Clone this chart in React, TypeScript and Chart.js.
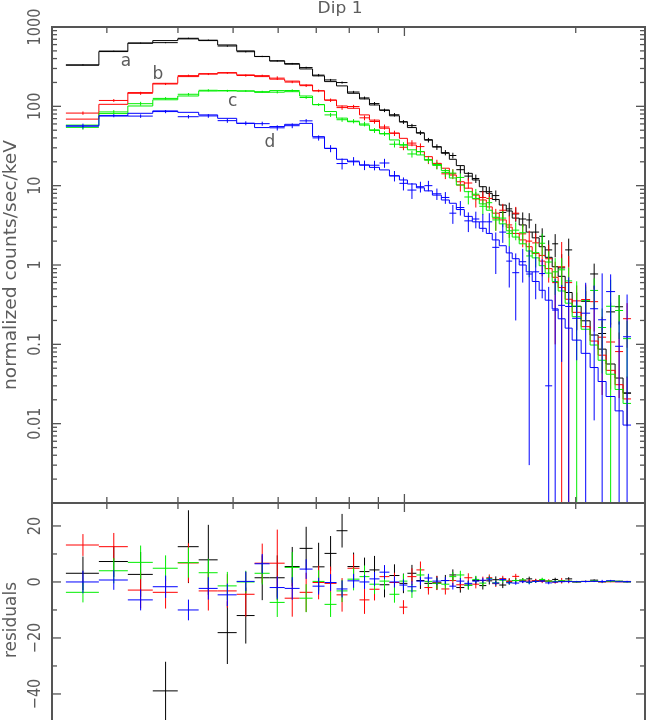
import React, { useEffect, useRef } from "react";
import { Chart, registerables } from "chart.js";
Chart.register(...registerables);

// ---------- data (energies in keV) ----------
const EDGES_KEV = [0.2542, 0.2905, 0.3266, 0.3613, 0.3997, 0.435, 0.4697, 0.5073, 0.5454, 0.5797, 0.616, 0.6544, 0.6896, 0.7238, 0.7598, 0.7943, 0.8338, 0.8681, 0.9041, 0.9412, 0.98, 1.0122, 1.0497, 1.0842, 1.1198, 1.1611, 1.1994, 1.2337, 1.2743, 1.3161, 1.3539, 1.3929, 1.4268, 1.4678, 1.5099, 1.5469, 1.5912, 1.6368, 1.677, 1.7251, 1.7675, 1.8182, 1.8628, 1.9163, 1.9714, 2.0444, 2.1201, 2.1897, 2.2616, 2.3453, 2.4222, 2.5016];

const BLACK_MODEL = [330, 490, 625, 674, 708, 674, 594, 500, 424, 373, 340, 296, 242, 205, 181, 146, 124, 104, 90, 76, 64, 54, 46, 38, 31, 25.6, 21.5, 17.9, 14.3, 11.8, 9.7, 8.0, 6.7, 5.7, 4.8, 3.9, 3.2, 2.6, 2.2, 1.7, 1.25, 0.95, 0.72, 0.45, 0.3, 0.198, 0.131, 0.087, 0.0565, 0.0376, 0.0243];
const BLACK_RESID = [3.1, 7.3, 2.7, -38.9, 12.6, 7.9, -18.1, -12, 1.5, 1.5, 5.5, 12, 5.4, 10.2, 18.3, 5.5, 3.7, 4.3, -1.0, 2.3, -0.5, 3.1, 0.5, -0.5, -0.3, 0.5, 2.5, -2.0, -1.1, 0.5, -1.3, 0.4, 0.8, -1.1, 0.3, 0.5, 0.6, 1.1, 0.4, 0.6, 0.3, 0.9, 0.2, 1.1, 0.0, 0.15, 0.64, 0.05, 0.2, 0.26, 0.0];
const BLACK_ERR = [6, 5.5, 8, 10.4, 13, 12.5, 11.2, 10, 8, 8, 7, 7.7, 8.6, 6.2, 6, 5, 5, 5, 4.5, 4, 3.5, 3, 3, 2.5, 2.5, 2, 2, 1.8, 1.6, 1.5, 1.4, 1.3, 1.2, 1.1, 1.0, 0.9, 0.8, 0.8, 0.7, 0.6, 0.5, 0.6, 0.45, 0.6, 0.15, 0.12, 0.27, 0.06, 0.08, 0.12, 0.015];

const RED_MODEL = [69, 106, 149, 195, 237, 258, 266, 249, 237, 220, 208, 186, 157, 120, 101, 94.5, 78, 67, 53, 46, 39.5, 32.5, 26.8, 23.2, 19.1, 16.6, 13.6, 11.2, 9.3, 7.6, 6.6, 5.4, 4.5, 3.7, 3.0, 2.5, 2.07, 1.7, 1.4, 1.12, 0.9, 0.7, 0.52, 0.37, 0.253, 0.167, 0.11, 0.073, 0.047, 0.031, 0.0205];
const RED_RESID = [13.2, 12.6, -2.9, -3.7, 6.8, -3.2, -3.2, -4.4, 6.7, 6.7, -5.8, -3.7, -0.2, -0.5, -4.6, 4.9, -6.4, -2.6, 1.9, -0.2, -9.0, 1.9, 4.3, -2.0, -0.4, -2.5, 0.5, -1.0, 1.5, -0.8, 0.5, 1.5, -0.6, 1.2, 0.2, 2.0, 0.4, 0.3, 0.5, 0.2, 0.3, -0.1, 0.43, 0.23, 0.1, 0.2, 0.235, 0.05, 0.06, 0.05, 0.19];
const RED_ERR = [3.9, 4.9, 6.5, 5.8, 7, 7, 6, 8, 7, 12, 6.6, 7, 6, 6, 6, 5, 5, 4, 4, 3.5, 2.5, 3, 3, 2.5, 2.5, 2, 2, 1.8, 1.6, 1.5, 1.4, 1.2, 1.2, 1.0, 1.0, 0.9, 0.8, 0.7, 0.6, 0.6, 0.6, 0.5, 1.0, 0.7, 0.2, 0.2, 0.2, 0.1, 0.08, 0.06, 0.12];

const GREEN_MODEL = [58, 81, 101, 121, 135, 156, 158, 156, 150, 158, 153, 135, 105, 86, 71, 64, 58, 50.5, 45, 37.7, 32.5, 28.3, 24.4, 21, 18.5, 15.5, 12.5, 10.2, 8.4, 6.9, 5.9, 4.9, 4.0, 3.3, 2.7, 2.25, 1.85, 1.5, 1.23, 0.98, 0.79, 0.62, 0.47, 0.33, 0.223, 0.155, 0.098, 0.063, 0.042, 0.027, 0.018];
const GREEN_RESID = [-3.7, 4.0, 7.0, 4.9, 6.9, 3.3, -1.4, 0, 3.1, -7.3, 5.2, -5.8, 0.2, -8, -3.2, 1.0, 1.9, -0.8, 0.3, -4.4, 0.3, -3.2, 2.5, 0.2, -0.5, -0.8, 1.9, 2.5, -1.2, 0.9, -0.4, 1.2, -0.3, 0.6, -0.2, 0.5, 0.7, -0.2, 0.2, 0.9, 0.3, 0.2, 0.4, 0.3, 0.08, 0.2, 0.38, 0.1, 0.26, 0.24, 0.1];
const GREEN_ERR = [3.6, 4.5, 6, 4.6, 5.4, 5, 5, 4, 4, 5.2, 5.5, 5, 4, 4.5, 4, 4, 4, 3.5, 3, 3, 2.5, 2.5, 2.5, 2, 2, 1.8, 1.6, 1.5, 1.4, 1.3, 1.2, 1.1, 1.0, 0.9, 0.8, 0.7, 0.7, 0.6, 0.5, 0.6, 0.4, 0.4, 0.35, 0.3, 0.32, 0.18, 0.2, 0.12, 0.35, 0.15, 0.08];

const BLUE_MODEL = [56.5, 75.6, 81.7, 87.6, 84, 78, 70.6, 61, 54, 55.6, 59.3, 61, 41.5, 29.6, 21.5, 20, 18.2, 17.0, 15.8, 13.3, 11.8, 10.5, 9.4, 8.6, 7.6, 6.6, 6.0, 5.0, 4.1, 3.5, 2.9, 2.5, 2.07, 1.75, 1.42, 1.2, 1.0, 0.82, 0.62, 0.48, 0.36, 0.28, 0.21, 0.16, 0.113, 0.077, 0.051, 0.034, 0.022, 0.0145, 0.0096];
const BLUE_RESID = [0, 0.7, -6.4, -1.7, -10, -2.3, -4.6, 0.2, 6.5, -2, -2.3, 4.6, -1.5, -0.2, -2.5, 0.4, 0, 1.1, 3.5, 0, -1.1, -1.7, 0.3, 1.4, 0.3, 0.5, -1.5, 0.3, -0.5, 0.3, 0.6, 1.0, -0.4, 0.85, -0.3, -0.4, 0.1, -0.05, 0.2, 0.3, -0.33, -0.01, 0.1, 0.14, 0.1, 0.17, 0.23, 0.17, 0.44, 0.08, 0.115];
const BLUE_ERR = [4, 3.5, 3.75, 4, 3.7, 4, 4, 3.5, 3.5, 4, 4, 3.5, 3, 3, 3, 2.5, 2.5, 2.5, 2.5, 2, 2, 2, 1.5, 1.5, 1.3, 1.2, 1.2, 1.1, 1.0, 0.9, 0.9, 1.0, 0.9, 0.7, 0.6, 0.6, 0.5, 0.767, 0.45, 0.4, 0.5, 0.4, 0.25, 0.4, 0.15, 0.35, 0.27, 0.58, 0.3, 0.1, 0.3];

// axis ticks and labels
const X_MINOR_TICKS = [0.3, 0.4, 0.5, 0.6, 0.7, 0.8, 0.9, 2];
const X_MAJOR_TICKS = [1];
const Y_DECADES = [0.001, 0.01, 0.1, 1, 10, 100];
const Y_TICK_VALUES = [1000, 100, 10, 1, 0.1, 0.01];
const Y_TICK_LABELS = ["1000", "100", "10", "1", "0.1", "0.01"];
const RES_TICK_VALUES = [20, 0, -20, -40];
const RES_TICK_LABELS = ["20", "0", "\u221220", "\u221240"];
const RES_MINOR_TICKS = [10, -10, -30];

// curve labels (anchored in data coordinates)
const CURVE_LABELS = ["a", "b", "c", "d"];
const CURVE_LABEL_E = [0.324, 0.369, 0.499, 0.58];
const CURVE_LABEL_V = [363, 249, 113.6, 34.5];

const TITLE = "Dip 1";
const Y_TITLE = "normalized counts/sec/keV";
const RES_TITLE = "residuals";

// ---------- style ----------
const X_MIN = 0.2403, X_MAX = 2.647;
const Y_MIN = 0.001, Y_MAX = 1000;
const R_MIN = -49.3, R_MAX = 28.2;
const AXIS_COLOR = "#555555";
const TEXT_COLOR = "#5c5c5c";
const FONT = '"DejaVu Sans", "Liberation Sans", sans-serif';

const SERIES = [
  { color: "#000000", model: BLACK_MODEL, resid: BLACK_RESID, err: BLACK_ERR, order: 3 },
  { color: "#ff0000", model: RED_MODEL, resid: RED_RESID, err: RED_ERR, order: 2 },
  { color: "#00ee00", model: GREEN_MODEL, resid: GREEN_RESID, err: GREEN_ERR, order: 1 },
  { color: "#0000ff", model: BLUE_MODEL, resid: BLUE_RESID, err: BLUE_ERR, order: 0 },
];

function stepData(model: number[]) {
  const pts: any[] = model.map((v, i) => ({ x: EDGES_KEV[i], y: v }));
  pts.push({ x: EDGES_KEV[model.length], y: model[model.length - 1] });
  return pts;
}

function crossData(values: number[], errs: number[], logFloor: boolean) {
  const pts: any[] = [];
  values.forEach((v, i) => {
    const lo = EDGES_KEV[i], hi = EDGES_KEV[i + 1], c = (lo + hi) / 2;
    pts.push({ x: lo, y: v }, { x: hi, y: v }, { x: hi, y: null });
    let bottom = v - errs[i];
    if (logFloor && bottom <= 0) bottom = 1e-6;
    pts.push({ x: c, y: bottom }, { x: c, y: v + errs[i] }, { x: c, y: null });
  });
  return pts;
}

function drawText(ctx: any, text: string, x: number, y: number, o: any) {
  ctx.save();
  ctx.font = `${o.size}px ${FONT}`;
  ctx.fillStyle = TEXT_COLOR;
  ctx.textAlign = o.align || "center";
  ctx.textBaseline = o.baseline || "alphabetic";
  ctx.translate(x, y);
  if (o.rotate) ctx.rotate(-Math.PI / 2);
  let sx = o.scaleX || 1;
  if (o.targetWidth) {
    const w = ctx.measureText(text).width;
    if (w > 0) sx = o.targetWidth / w;
  }
  ctx.scale(sx, 1);
  ctx.fillText(text, 0, 0);
  ctx.restore();
}

function seg(ctx: any, x1: number, y1: number, x2: number, y2: number) {
  ctx.beginPath();
  ctx.moveTo(x1, y1);
  ctx.lineTo(x2, y2);
  ctx.stroke();
}

const TICK_SCALE = 0.85;
const TICK_SIZE = 17;

const topPlugin = {
  id: "pgTop",
  afterDraw(chart: any) {
    const { ctx, chartArea: a } = chart;
    const xs = chart.scales.x, ys = chart.scales.y;
    ctx.save();
    ctx.strokeStyle = AXIS_COLOR;
    ctx.lineWidth = 2;
    ctx.strokeRect(a.left, a.top, a.right - a.left, a.bottom - a.top);
    ctx.lineWidth = 1.3;
    X_MINOR_TICKS.forEach((v) => {
      const p = xs.getPixelForValue(v);
      seg(ctx, p, a.top, p, a.top + 6);
      seg(ctx, p, a.bottom, p, a.bottom - 6);
    });
    X_MAJOR_TICKS.forEach((v) => {
      const p = xs.getPixelForValue(v);
      seg(ctx, p, a.top, p, a.top + 9);
      seg(ctx, p, a.bottom, p, a.bottom - 9);
    });
    Y_DECADES.forEach((d) => {
      for (let k = 1; k <= 9; k++) {
        const v = d * k;
        if (v <= Y_MIN || v >= Y_MAX) continue;
        const p = ys.getPixelForValue(v);
        const len = k === 1 ? 9 : 5;
        seg(ctx, a.left, p, a.left + len, p);
        seg(ctx, a.right, p, a.right - len, p);
      }
    });
    ctx.restore();

    Y_TICK_VALUES.forEach((v, i) => {
      let p = ys.getPixelForValue(v);
      ctx.save();
      ctx.font = `${TICK_SIZE}px ${FONT}`;
      const w = ctx.measureText(Y_TICK_LABELS[i]).width * TICK_SCALE;
      ctx.restore();
      if (p - w / 2 < 0) p = w / 2;
      drawText(ctx, Y_TICK_LABELS[i], 40, p, { size: TICK_SIZE, rotate: true, scaleX: TICK_SCALE });
    });

    drawText(ctx, Y_TITLE, 16, (a.top + a.bottom) / 2, { size: 17, rotate: true, targetWidth: 250 });
    drawText(ctx, TITLE, 340, 13, { size: 15, targetWidth: 45 });

    CURVE_LABELS.forEach((t, i) => {
      const px = xs.getPixelForValue(CURVE_LABEL_E[i]);
      const py = ys.getPixelForValue(CURVE_LABEL_V[i]);
      drawText(ctx, t, px, py, { size: 17, baseline: "middle" });
    });
  },
};

const botPlugin = {
  id: "pgBot",
  afterDraw(chart: any) {
    const { ctx, chartArea: a } = chart;
    const xs = chart.scales.x, ys = chart.scales.y;
    ctx.save();
    ctx.strokeStyle = AXIS_COLOR;
    ctx.lineWidth = 2;
    seg(ctx, a.left, a.bottom + 2, a.left, a.top);
    seg(ctx, a.left, a.top, a.right, a.top);
    seg(ctx, a.right, a.top, a.right, a.bottom + 2);
    ctx.lineWidth = 1.3;
    X_MINOR_TICKS.forEach((v) => {
      const p = xs.getPixelForValue(v);
      seg(ctx, p, a.top, p, a.top + 6);
    });
    X_MAJOR_TICKS.forEach((v) => {
      const p = xs.getPixelForValue(v);
      seg(ctx, p, a.top, p, a.top + 9);
    });
    RES_TICK_VALUES.forEach((v) => {
      const p = ys.getPixelForValue(v);
      seg(ctx, a.left, p, a.left + 9, p);
      seg(ctx, a.right, p, a.right - 9, p);
    });
    RES_MINOR_TICKS.forEach((v) => {
      const p = ys.getPixelForValue(v);
      seg(ctx, a.left, p, a.left + 5, p);
      seg(ctx, a.right, p, a.right - 5, p);
    });
    ctx.restore();
    RES_TICK_VALUES.forEach((v, i) => {
      const p = ys.getPixelForValue(v);
      drawText(ctx, RES_TICK_LABELS[i], 40, p, { size: TICK_SIZE, rotate: true, scaleX: TICK_SCALE });
    });
    drawText(ctx, RES_TITLE, 16, a.top + 117, { size: 17, rotate: true, targetWidth: 76 });
  },
};

export default function App() {
  const topRef = useRef<HTMLCanvasElement>(null);
  const botRef = useRef<HTMLCanvasElement>(null);

  useEffect(() => {
    const topSets: any[] = [];
    const botSets: any[] = [];
    SERIES.forEach((s) => {
      topSets.push({
        data: stepData(s.model),
        stepped: "before",
        borderColor: s.color,
        borderWidth: 1,
        pointRadius: 0,
        fill: false,
        order: s.order,
      });
      const dataVals = s.model.map((m, i) => m + s.resid[i]);
      topSets.push({
        data: crossData(dataVals, s.err, true),
        borderColor: s.color,
        borderWidth: 1,
        pointRadius: 0,
        fill: false,
        spanGaps: false,
        order: s.order,
      });
      botSets.push({
        data: crossData(s.resid, s.err, false),
        borderColor: s.color,
        borderWidth: 1,
        pointRadius: 0,
        fill: false,
        spanGaps: false,
        order: s.order,
      });
    });

    const common: any = {
      animation: false,
      responsive: false,
      devicePixelRatio: 1,
      events: [],
      plugins: { legend: { display: false }, tooltip: { enabled: false }, title: { display: false } },
      elements: { point: { radius: 0 }, line: { tension: 0 } },
    };

    const c1 = new Chart(topRef.current as any, {
      type: "line",
      data: { datasets: topSets },
      options: {
        ...common,
        layout: { padding: { left: 52, top: 27, right: 1, bottom: 3 } },
        scales: {
          x: { type: "logarithmic", min: X_MIN, max: X_MAX, display: false, bounds: "data" },
          y: { type: "logarithmic", min: Y_MIN, max: Y_MAX, display: false, bounds: "data" },
        },
      },
      plugins: [topPlugin],
    } as any);

    const c2 = new Chart(botRef.current as any, {
      type: "line",
      data: { datasets: botSets },
      options: {
        ...common,
        layout: { padding: { left: 52, top: 3, right: 1, bottom: 0 } },
        scales: {
          x: { type: "logarithmic", min: X_MIN, max: X_MAX, display: false, bounds: "data" },
          y: { type: "linear", min: R_MIN, max: R_MAX, display: false, bounds: "data" },
        },
      },
      plugins: [botPlugin],
    } as any);

    return () => {
      c1.destroy();
      c2.destroy();
    };
  }, []);

  return (
    <div style={{ position: "absolute", left: 0, top: 0, width: 646, height: 720, background: "#ffffff", overflow: "hidden" }}>
      <canvas ref={topRef} width={646} height={506} style={{ position: "absolute", left: 0, top: 0 }} />
      <canvas ref={botRef} width={646} height={220} style={{ position: "absolute", left: 0, top: 500 }} />
    </div>
  );
}
